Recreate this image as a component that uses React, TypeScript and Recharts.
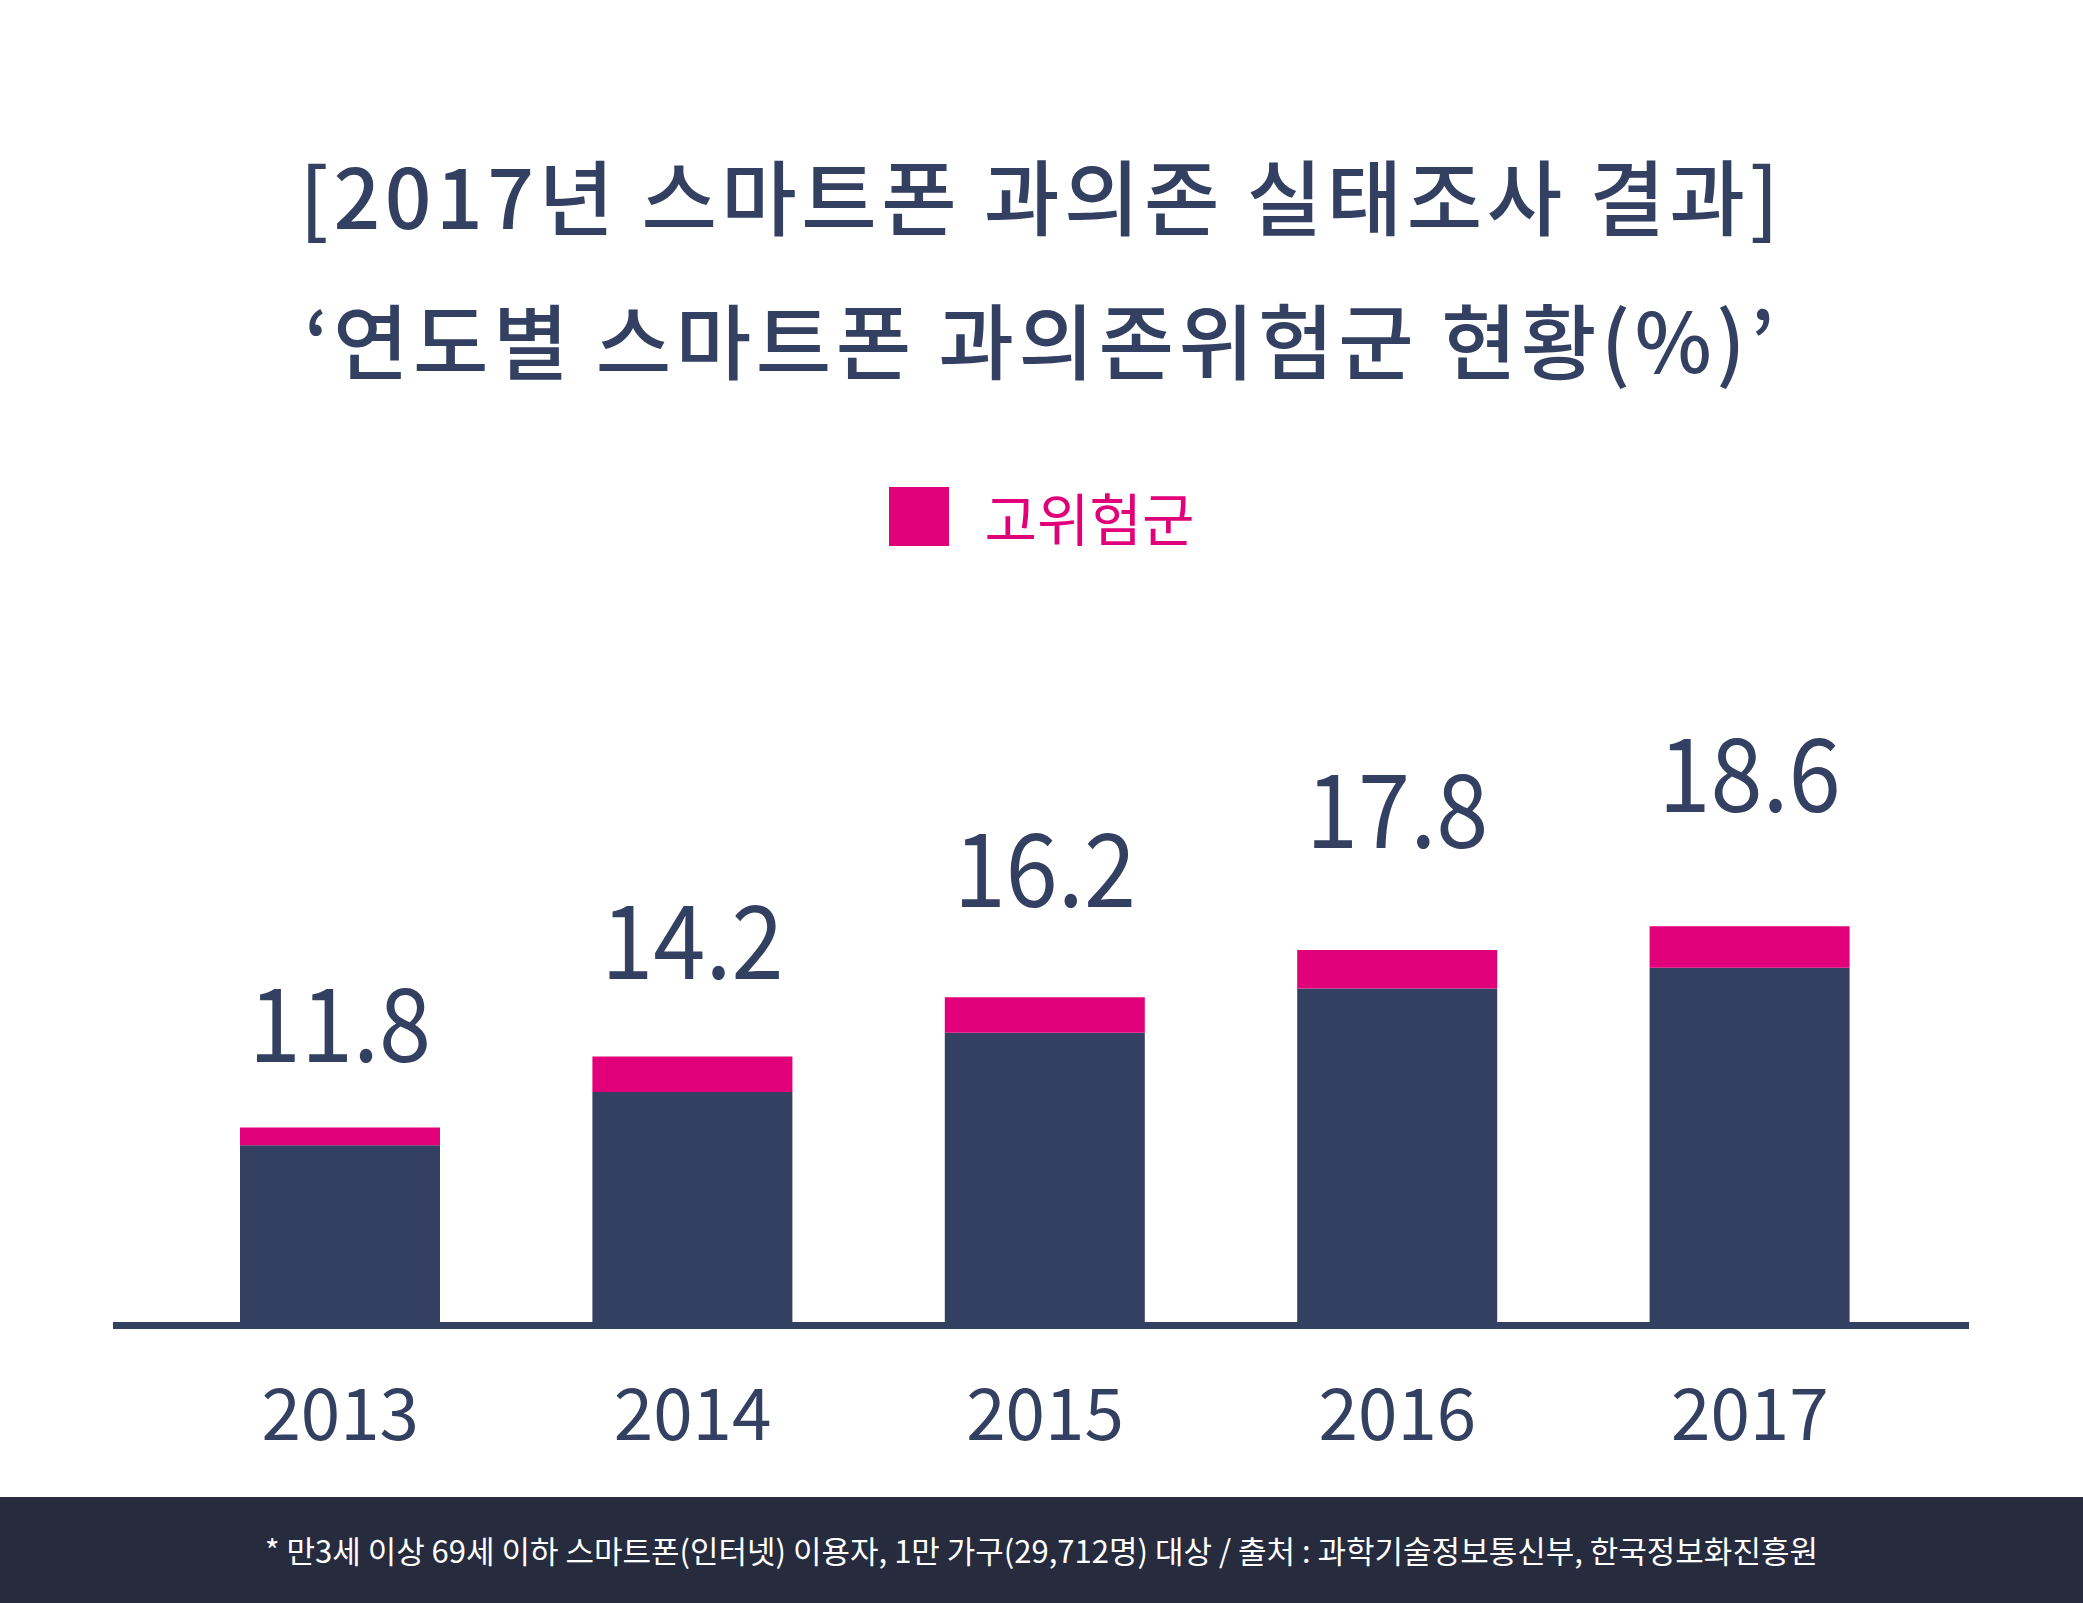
import React from "react"
import { BarChart, Bar, XAxis, YAxis, Legend, LabelList } from "recharts"

const years = ["2013", "2014", "2015", "2016", "2017"]
// 과의존위험군 전체 (막대 위 숫자)
const totals = [11.8, 14.2, 16.2, 17.8, 18.6]
// 남색 부분 (잠재적위험군) / 분홍 부분 (고위험군) - 그림에서 읽은 값
const potentialRisk = [11.2, 13.0, 15.0, 16.5, 17.2]
const highRisk = [0.6, 1.2, 1.2, 1.3, 1.4]

const data = years.map((year, i) => ({
  year,
  potential: potentialRisk[i],
  high: highRisk[i],
  total: totals[i],
}))

const NAVY = "#344062"
const PINK = "#e2007a"
const FONT = "'Noto Sans CJK KR', 'Noto Sans', sans-serif"

const renderValue = (props: any) => {
  const { x, y, width, value, index } = props
  const cx = x + width / 2
  const by = y - (66 + 12 * index)
  return (
    <text
      transform={`translate(${cx},${by}) scale(0.92,1)`}
      textAnchor="middle"
      fontSize={102}
      fill={NAVY}
      fontFamily={FONT}
    >
      {value}
    </text>
  )
}

const renderLegend = (props: any) => {
  const items = (props.payload || []).filter((p: any) => p.type !== "none")
  return (
    <div style={{ display: "flex", justifyContent: "center" }}>
      {items.map((p: any) => (
        <div key={p.value} style={{ display: "flex", alignItems: "center", height: 60 }}>
          <div style={{ width: 60, height: 59, background: p.color, marginRight: 36 }} />
          <span style={{ fontSize: 57, lineHeight: "60px", color: PINK, fontFamily: FONT }}>{p.value}</span>
        </div>
      ))}
    </div>
  )
}

const titleStyle: React.CSSProperties = {
  position: "absolute",
  left: 0,
  width: 2083,
  textAlign: "center",
  fontSize: 82,
  lineHeight: "100px",
  fontWeight: 500,
  color: NAVY,
  letterSpacing: 4.5,
}

export default function App() {
  return (
    <div
      style={{
        position: "absolute",
        top: 0,
        left: 0,
        width: 2083,
        height: 1603,
        background: "#fff",
        fontFamily: FONT,
        overflow: "hidden",
      }}
    >
      <div style={{ ...titleStyle, top: 144 }}>[2017년 스마트폰 과의존 실태조사 결과]</div>
      <div style={{ ...titleStyle, top: 288 }}>‘연도별 스마트폰 과의존위험군 현황(%)’</div>

      <div style={{ position: "absolute", top: 0, left: 0 }}>
        <BarChart
          width={2083}
          height={1497}
          data={data}
          margin={{ top: 589, right: 114, bottom: 71.5, left: 113 }}
        >
          <XAxis
            dataKey="year"
            height={100}
            padding={{ left: 51, right: 43 }}
            axisLine={{ stroke: NAVY, strokeWidth: 7 }}
            tickLine={false}
            tickSize={0}
            tickMargin={64}
            tick={{ fill: NAVY, fontSize: 71, fontFamily: FONT }}
          />
          <YAxis type="number" domain={[5.11, 30]} allowDataOverflow hide />
          <Legend
            verticalAlign="middle"
            align="center"
            wrapperStyle={{ top: 486, left: 0, width: 2083 }}
            content={renderLegend}
          />
          <Bar
            dataKey="potential"
            name="잠재적위험군"
            stackId="a"
            fill={NAVY}
            barSize={200}
            legendType="none"
            isAnimationActive={false}
          />
          <Bar
            dataKey="high"
            name="고위험군"
            stackId="a"
            fill={PINK}
            barSize={200}
            isAnimationActive={false}
          >
            <LabelList dataKey="total" content={renderValue} />
          </Bar>
        </BarChart>
      </div>

      <div
        style={{
          position: "absolute",
          top: 1497,
          left: 0,
          width: 2083,
          height: 106,
          background: "#272b3e",
          color: "#fff",
          textAlign: "center",
          fontSize: 31,
          lineHeight: "106px",
        }}
      >
        * 만3세 이상 69세 이하 스마트폰(인터넷) 이용자, 1만 가구(29,712명) 대상 / 출처 : 과학기술정보통신부, 한국정보화진흥원
      </div>
    </div>
  )
}
